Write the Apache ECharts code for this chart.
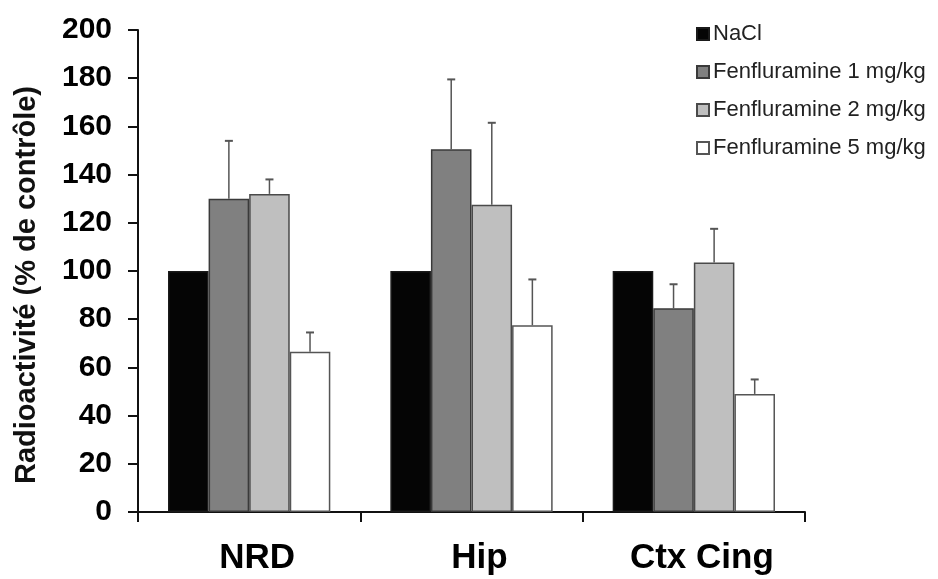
<!DOCTYPE html>
<html>
<head>
<meta charset="utf-8">
<script src="https://cdn.jsdelivr.net/npm/echarts@6/dist/echarts.min.js"></script>
<style>
  html, body { margin: 0; padding: 0; background: #fff; }
  #chart { width: 938px; height: 579px; }
</style>
</head>
<body>
<div id="chart"></div>
<script>
const regions = ['NRD', 'Hip', 'Ctx Cing'];
const groupNames = ['NaCl', 'Fenfluramine 1 mg/kg', 'Fenfluramine 2 mg/kg', 'Fenfluramine 5 mg/kg'];
const naclMean = [100, 100, 100];
const naclErr = [0, 0, 0];
const fen1Mean = [130, 150.5, 84.5];
const fen1Err = [24, 29, 10];
const fen2Mean = [132, 127.5, 103.5];
const fen2Err = [6, 34, 14];
const fen5Mean = [66.5, 77.5, 49];
const fen5Err = [8, 19, 6];
const yTitle = 'Radioactivité (% de contrôle)';

const means = [naclMean, fen1Mean, fen2Mean, fen5Mean];
const errs = [naclErr, fen1Err, fen2Err, fen5Err];
const fills = ['#050505', '#808080', '#bfbfbf', '#ffffff'];
const borders = ['#1a1a1a', '#3a3a3a', '#4a4a4a', '#555555'];
const catGap = 0.27;
const font = 'Liberation Sans, Arial, sans-serif';

const chart = echarts.init(document.getElementById('chart'), null, { renderer: 'canvas' });

const barSeries = groupNames.map((name, i) => ({
  name,
  type: 'bar',
  data: means[i],
  barGap: '0%',
  barCategoryGap: (catGap * 100) + '%',
  itemStyle: { color: fills[i], borderColor: borders[i], borderWidth: 1.5 },
  emphasis: { disabled: true },
  z: 2,
}));

// upward-only error bars with a small cap
const errSeries = groupNames.map((name, i) => ({
  type: 'custom',
  data: regions.map((r, j) => [j, means[i][j], means[i][j] + errs[i][j]]),
  z: 3,
  silent: true,
  renderItem: (params, api) => {
    const idx = api.value(0);
    if (api.value(2) <= api.value(1)) return null;
    const catW = api.size([1, 0])[0];
    const barW = catW * (1 - catGap) / 4;
    const base = api.coord([idx, api.value(1)]);
    const top = api.coord([idx, api.value(2)]);
    const x = base[0] + (i - 1.5) * barW;
    const style = { stroke: '#555', lineWidth: 1.5 };
    return {
      type: 'group',
      children: [
        { type: 'line', shape: { x1: x, y1: base[1], x2: x, y2: top[1] }, style },
        { type: 'line', shape: { x1: x - 4, y1: top[1], x2: x + 4, y2: top[1] }, style: { stroke: '#555', lineWidth: 2 } },
      ],
    };
  },
}));

chart.setOption({
  backgroundColor: '#fff',
  animation: false,
  grid: { left: 138, right: 133, top: 30, bottom: 67 },
  legend: {
    data: groupNames,
    orient: 'vertical',
    left: 691,
    top: 18,
    itemWidth: 12,
    itemHeight: 12,
    itemGap: 16,
    icon: 'rect',
    textStyle: { fontFamily: font, fontSize: 22, lineHeight: 22, color: '#222', padding: [0, 0, 0, -1] },
  },
  graphic: [{
    type: 'text',
    x: 27,
    y: 285,
    rotation: Math.PI / 2,
    style: {
      text: yTitle,
      font: 'bold 29px ' + font,
      fill: '#111',
      textAlign: 'center',
      textVerticalAlign: 'middle',
    },
  }],
  xAxis: {
    type: 'category',
    data: regions,
    axisLine: { lineStyle: { color: '#111', width: 2 } },
    axisTick: { show: true, length: 10, inside: false, lineStyle: { color: '#111', width: 2 } },
    axisLabel: {
      margin: 29,
      padding: [0, 0, 0, 16],
      fontFamily: font,
      fontWeight: 'bold',
      fontSize: 35,
      color: '#000',
    },
  },
  yAxis: {
    type: 'value',
    min: 0,
    max: 200,
    interval: 20,
    axisLine: { show: true, lineStyle: { color: '#111', width: 2 } },
    axisTick: { show: true, length: 10, lineStyle: { color: '#111', width: 2 } },
    splitLine: { show: false },
    axisLabel: {
      margin: 26,
      fontFamily: font,
      fontWeight: 'bold',
      fontSize: 30,
      color: '#000',
    },
  },
  series: [...barSeries, ...errSeries],
});
</script>
</body>
</html>
